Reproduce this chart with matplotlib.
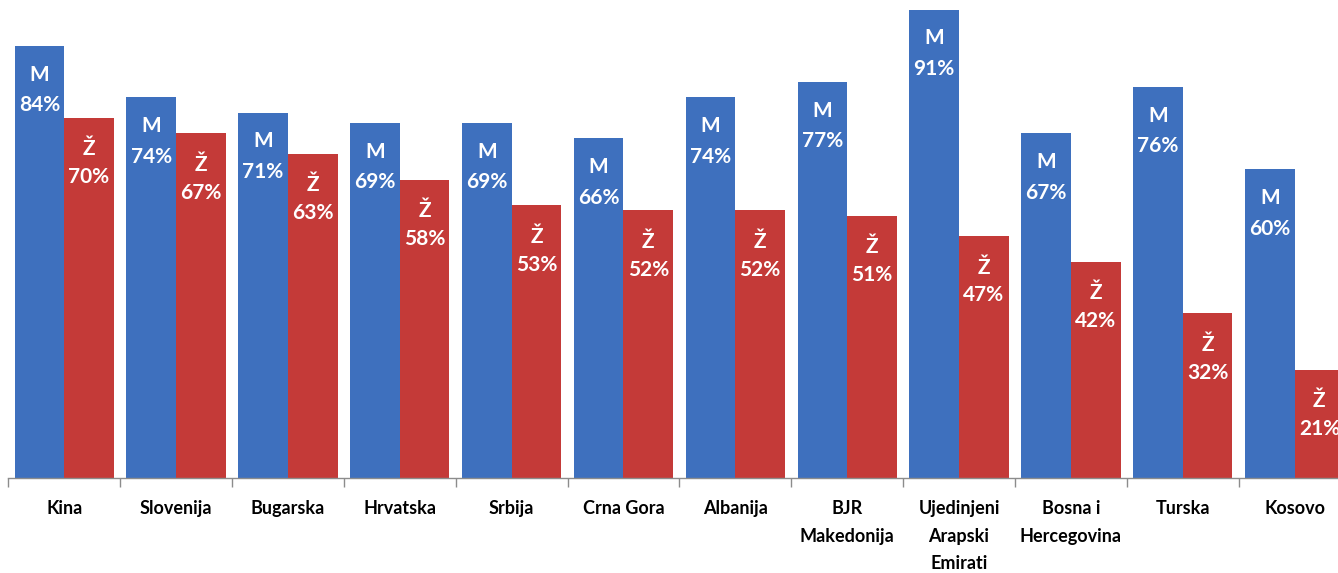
import numpy as np
import matplotlib
matplotlib.use('Agg')
import matplotlib.pyplot as plt

# data
drzave = ['Kina', 'Slovenija', 'Bugarska', 'Hrvatska', 'Srbija', 'Crna Gora',
          'Albanija', 'BJR\nMakedonija', 'Ujedinjeni\nArapski\nEmirati',
          'Bosna i\nHercegovina', 'Turska', 'Kosovo']
muski = [84, 74, 71, 69, 69, 66, 74, 77, 91, 67, 76, 60]
zene = [70, 67, 63, 58, 53, 52, 52, 51, 47, 42, 32, 21]

plava = '#3E70BE'
crvena = '#C43A38'
sirina = 0.444

plt.rcParams['font.family'] = ['Lato', 'DejaVu Sans']

fig = plt.figure(figsize=(13.38, 5.73), dpi=100)
ax = fig.add_axes([8.3 / 1338, 95 / 573, 1 - 8.3 / 1338, 478 / 573])

x = np.arange(len(drzave))
b1 = ax.bar(x - sirina / 2, muski, sirina, color=plava)
b2 = ax.bar(x + sirina / 2, zene, sirina, color=crvena)

def oznake(barovi, vrijednosti, slovo, pomak):
    for b, v in zip(barovi, vrijednosti):
        cx = b.get_x() + b.get_width() / 2
        ax.annotate(slovo, (cx, v), xytext=(0, pomak), textcoords='offset points',
                    ha='center', va='baseline', color='white',
                    fontsize=15, fontweight='bold', annotation_clip=False)
        ax.annotate(f'{v}%', (cx, v), xytext=(0, -47), textcoords='offset points',
                    ha='center', va='baseline', color='white',
                    fontsize=15, fontweight='bold', annotation_clip=False)

oznake(b1, muski, 'M', -25)
oznake(b2, zene, 'Ž', -27)

ax.set_xlim(-0.5, -0.5 + 1329.7 / 111.85)
ax.set_ylim(0, 92.9)

for s in ['top', 'right', 'left']:
    ax.spines[s].set_visible(False)
ax.spines['bottom'].set_color('#8C8C8C')
ax.spines['bottom'].set_linewidth(1)
ax.set_yticks([])

ax.set_xticks(x)
ax.set_xticklabels(drzave, fontsize=13, fontweight='bold', linespacing=1.75)
ax.tick_params(axis='x', which='major', length=0, pad=16)
ax.set_xticks(np.arange(len(drzave)) - 0.5, minor=True)
ax.tick_params(axis='x', which='minor', length=6.5, width=1, color='#8C8C8C')

fig.savefig('out.png', dpi=100)
